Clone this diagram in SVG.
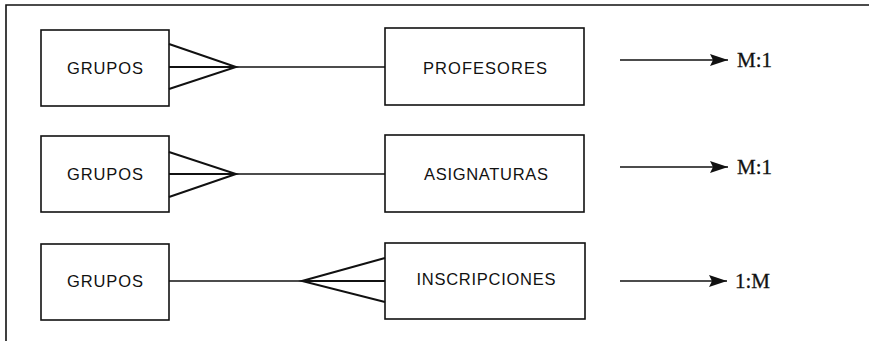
<svg xmlns="http://www.w3.org/2000/svg" width="869" height="341" viewBox="0 0 869 341">
  <style>
    .box { fill: #fff; stroke: #111; stroke-width: 1.6; }
    .lbl { font-family: "Liberation Sans", Arial, sans-serif; font-size: 16.5px; fill: #111; text-anchor: middle; }
    .card { font-family: "Liberation Serif", "Times New Roman", serif; font-size: 21px; fill: #111; stroke: #111; stroke-width: 0.3; }
    .rel { fill: none; stroke: #111; stroke-width: 1.6; }
    .foot { fill: none; stroke: #111; stroke-width: 2; }
    .frame { fill: none; stroke: #111; stroke-width: 1.6; }
  </style>
  <defs>
    <marker id="arrow" viewBox="0 0 18 12" refX="18" refY="6" markerWidth="18" markerHeight="12" markerUnits="userSpaceOnUse" orient="auto">
      <path d="M0,0 L18,6 L0,12 L3,6 Z" fill="#111"/>
    </marker>
  </defs>

  <!-- outer frame: top and left edges -->
  <path class="frame" d="M6,341 V5 H869"/>

  <!-- entities -->
  <g id="grupos1">
    <rect class="box" x="41" y="30" width="128" height="76"/>
    <text class="lbl" x="105" y="74" textLength="76">GRUPOS</text>
  </g>
  <g id="profesores">
    <rect class="box" x="385" y="28" width="199" height="77"/>
    <text class="lbl" x="485" y="74" textLength="124">PROFESORES</text>
  </g>
  <g id="grupos2">
    <rect class="box" x="41" y="136" width="128" height="76"/>
    <text class="lbl" x="105" y="180" textLength="76">GRUPOS</text>
  </g>
  <g id="asignaturas">
    <rect class="box" x="385" y="135" width="199" height="77"/>
    <text class="lbl" x="486" y="180" textLength="124">ASIGNATURAS</text>
  </g>
  <g id="grupos3">
    <rect class="box" x="41" y="244" width="128" height="76"/>
    <text class="lbl" x="105" y="287" textLength="76">GRUPOS</text>
  </g>
  <g id="inscripciones">
    <rect class="box" x="385" y="243" width="200" height="76"/>
    <text class="lbl" x="486" y="285" textLength="139">INSCRIPCIONES</text>
  </g>

  <!-- relationships (crow's foot = many side) -->
  <g id="connectors">
    <path class="foot" d="M169,44 L236,67 L169,89 M169,67 H236"/>
    <path class="rel" d="M236,67 H385"/>
    <path class="foot" d="M169,152 L236,174 L169,197 M169,174 H236"/>
    <path class="rel" d="M236,174 H385"/>
    <path class="rel" d="M169,281 H302"/>
    <path class="foot" d="M385,258 L302,281 L385,302 M302,281 H385"/>

    <line class="rel" x1="620" y1="60" x2="728" y2="60" marker-end="url(#arrow)"/>
    <line class="rel" x1="620" y1="167" x2="728" y2="167" marker-end="url(#arrow)"/>
    <line class="rel" x1="620" y1="281" x2="727" y2="281" marker-end="url(#arrow)"/>
  </g>

  <!-- cardinalities -->
  <text class="card" x="737" y="67">M:1</text>
  <text class="card" x="737" y="174">M:1</text>
  <text class="card" x="735" y="288">1:M</text>
</svg>
